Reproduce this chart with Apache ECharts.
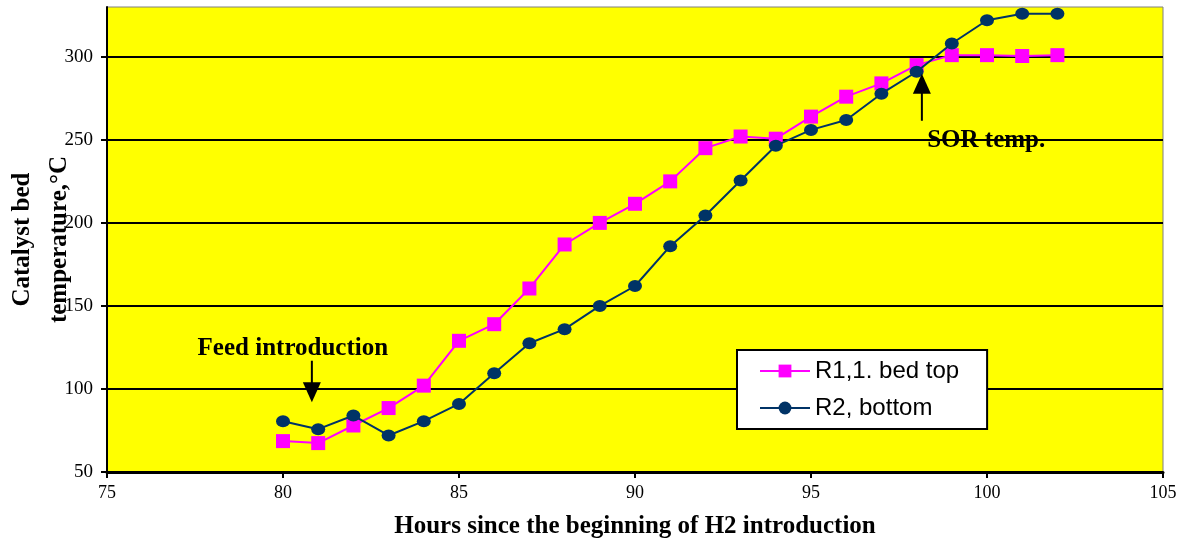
<!DOCTYPE html>
<html><head><meta charset="utf-8">
<script src="https://cdn.jsdelivr.net/npm/echarts@6/dist/echarts.min.js"></script>
<style>html,body{margin:0;padding:0;background:#fff;}#c{width:1187px;height:542px;}</style>
</head><body><div id="c"></div>
<script>
var hours = [80,81,82,83,84,85,86,87,88,89,90,91,92,93,94,95,96,97,98,99,100,101,102];
var r1Top = [68.6,67.4,78,88.5,102,129,139,160.5,187,200,211.5,225,245,252,250.7,264,276,284,295,301,301,300.5,301];
var r2Bottom = [80.6,75.8,84,72,80.6,91,109.5,127.5,136,150,162,186,204.5,225.5,246.5,256,262,277.8,291,308,322,326,326];
var seriesNames = ['R1,1. bed top','R2, bottom'];
var xTicks = [75,80,85,90,95,100,105];
var yTicks = [50,100,150,200,250,300];
var xName = 'Hours since the beginning of H2 introduction';
var yName = 'Catalyst bed\ntemperature,\u00b0C';
var notes = [
  {text:'Feed introduction', at:[80.28,124.5], align:'center', arrowFrom:[80.82,117], arrowTo:[80.82,92], dir:'down'},
  {text:'SOR temp.', at:[98.3,249.5], align:'left', arrowFrom:[98.15,261.5], arrowTo:[98.15,289.8], dir:'up'}
];

function pairs(xs, ys){ return xs.map(function(x,i){return [x, ys[i]];}); }

var serif = '"Liberation Serif","Times New Roman",serif';
var chart = echarts.init(document.getElementById('c'), null, {renderer:'canvas'});
chart.setOption({
  animation:false,
  backgroundColor:'#ffffff',
  grid:{left:107, right:24, top:7, bottom:70, containLabel:false, outerBoundsMode:'none',
    show:true, backgroundColor:'#ffff00', borderColor:'#808080', borderWidth:1},
  xAxis:{type:'value', min:75, max:105, interval:5,
    axisLine:{onZero:false, lineStyle:{color:'#000', width:3}},
    axisTick:{show:true, length:6, lineStyle:{color:'#000', width:2}, customValues:xTicks},
    axisLabel:{color:'#000', fontFamily:serif, fontSize:18, margin:12, customValues:xTicks},
    splitLine:{show:false},
    name:xName, nameLocation:'middle', nameGap:42, nameMoveOverlap:false,
    nameTextStyle:{color:'#000', fontFamily:serif, fontWeight:'bold', fontSize:25}
  },
  yAxis:{type:'value', min:50, max:330, interval:50,
    axisLine:{show:true, onZero:false, lineStyle:{color:'#000', width:2}},
    axisTick:{show:true, length:6, lineStyle:{color:'#000', width:2}, customValues:yTicks},
    axisLabel:{color:'#000', fontFamily:serif, fontSize:19, margin:14, customValues:yTicks},
    splitLine:{show:true, lineStyle:{color:'#000', width:2}},
    name:yName, nameLocation:'middle', nameGap:29, nameRotate:90, nameMoveOverlap:false,
    nameTextStyle:{color:'#000', fontFamily:serif, fontWeight:'bold', fontSize:25, lineHeight:37}
  },
  legend:{orient:'vertical', left:737, top:350, backgroundColor:'#fff', borderColor:'#000', borderWidth:2,
    padding:[9,28,9,22], itemWidth:50, itemHeight:16, itemGap:13,
    textStyle:{fontFamily:'"Liberation Sans",Arial,sans-serif', fontSize:24, color:'#000'},
    data:seriesNames},
  series:[
    {name:seriesNames[0], type:'line', data:pairs(hours,r1Top), symbol:'rect', symbolSize:14,
     lineStyle:{color:'#ff00ff', width:2}, itemStyle:{color:'#ff00ff'}, z:3},
    {name:seriesNames[1], type:'line', data:pairs(hours,r2Bottom), symbol:'circle', symbolSize:[14,12],
     lineStyle:{color:'#003366', width:2}, itemStyle:{color:'#003366'}, z:4}
  ]
});

var g = [];
notes.forEach(function(n){
  var p = chart.convertToPixel({gridIndex:0}, n.at);
  g.push({type:'text', x:p[0], y:p[1], z:10, style:{text:n.text, fill:'#000', font:'bold 25px '+serif, align:n.align, verticalAlign:'middle'}});
  var a = chart.convertToPixel({gridIndex:0}, n.arrowFrom);
  var b = chart.convertToPixel({gridIndex:0}, n.arrowTo);
  var s = n.dir==='down'?1:-1;
  var headLen = 20, headHalf = 9;
  g.push({type:'line', z:10, shape:{x1:a[0], y1:a[1], x2:b[0], y2:b[1]-s*headLen+s*2}, style:{stroke:'#000', lineWidth:2}});
  g.push({type:'polygon', z:10, shape:{points:[[b[0],b[1]],[b[0]-headHalf,b[1]-s*headLen],[b[0]+headHalf,b[1]-s*headLen]]}, style:{fill:'#000'}});
});
chart.setOption({graphic:g});
</script></body></html>
